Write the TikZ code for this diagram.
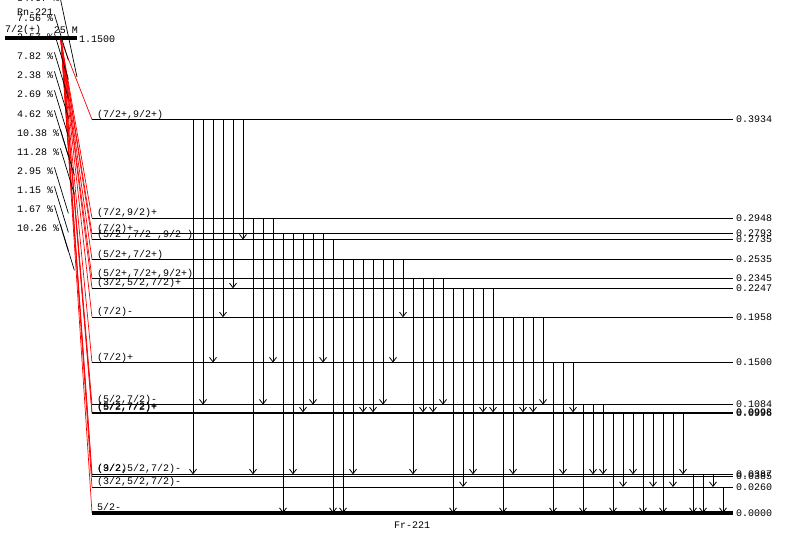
\documentclass[tikz,border=0pt]{standalone}
\usepackage{fontspec}
\newfontfamily\lmono{Liberation Mono}
\usetikzlibrary{arrows.meta}
\begin{document}
\begin{tikzpicture}[x=1pt,y=-1pt,
  lvl/.style={line width=0.9pt},
  gsl/.style={line width=3.4pt},
  gam/.style={line width=0.9pt,-{Straight Barb[length=4.5pt,width=7pt,line width=0.8pt]}},
  beta/.style={red,line width=0.7pt},
  ptr/.style={line width=0.7pt},
  txt/.style={font=\lmono\fontsize{10}{10}\selectfont,inner sep=0pt},
  ]
\useasboundingbox[fill=white] (0,0) rectangle (785,535);
% level anchors
\foreach \n/\y in {3934/119.6, 2948/218.2, 2793/233.7, 2735/239.5, 2535/259.5,
  2345/278.5, 2247/288.3, 1958/317.2, 1500/362.5, 1084/404.6, 0998/412.3,
  0996/413.3, 0387/474.3, 0385/476.3, 0260/487, 0000/513}{
  \coordinate (L\n) at (92,\y);
  \coordinate (R\n) at (733,\y);
}
% parent
\coordinate (P) at (61,40);
\coordinate (P0) at (5,38);
\coordinate (P1) at (77,38);
% beta feeding lines
\foreach \n in {3934,2948,2793,2735,2535,2345,2247,1958,1500,1084,0998,0996,0387,0385,0260,0000}
  \draw[beta] (P) -- (L\n);
% percentages and pointers
\node[txt,anchor=west] (p0) at (17,-2) {34.67~\%};
\draw[ptr] (60,-3) -- (77,77);
\node[txt,anchor=west] (rn) at (17,12) {Rn-221};
\foreach \pc/\y [count=\i] in {7.56/18, 2.57/37, 7.82/56, 2.38/75, 2.69/94, 4.62/114,
  10.38/133, 11.28/152, 2.95/171, 1.15/190, 1.67/209, 10.26/228}{
  \node[txt,anchor=west] (p\i) at (17,\y) {\pc~\%};
  \draw[ptr] ([xshift=1pt]p\i.north east) -- ++(14,46);
}
\draw[line width=4.2pt] (P0) -- (P1);
\node[txt,anchor=west] (spin) at (5,30) {7/2(+)};
\node[txt,anchor=east] (hl) at (78,30) {25 M};
\node[txt,anchor=west] (pe) at (79,39.5) {1.1500};
% levels
\foreach \n in {3934,2948,2793,2735,2535,2345,2247,1958,1500,1084,0998,0996,0387,0385,0260}{
  \draw[lvl] (L\n) -- (R\n);
  \node[txt,anchor=west,xshift=3pt] (e\n) at (R\n) {0.\n};
}
\draw[gsl] (L0000) -- (R0000);
\node[txt,anchor=west,xshift=3pt] (e0000) at (R0000) {0.0000};
% spin labels
\node[txt,anchor=base west] (s3934) at ([xshift=5pt,yshift=2.5pt]L3934) {(7/2+,9/2+)};
\node[txt,anchor=base west] (s2948) at ([xshift=5pt,yshift=2.5pt]L2948) {(7/2,9/2)+};
\node[txt,anchor=base west] (s2793) at ([xshift=5pt,yshift=2.5pt]L2793) {(7/2)+};
\node[txt,anchor=base west] (s2735) at ([xshift=5pt,yshift=2.5pt]L2735) {(5/2 ,7/2 ,9/2 )};
\node[txt,anchor=base west] (s2535) at ([xshift=5pt,yshift=2.5pt]L2535) {(5/2+,7/2+)};
\node[txt,anchor=base west] (s2345) at ([xshift=5pt,yshift=2.5pt]L2345) {(5/2+,7/2+,9/2+)};
\node[txt,anchor=base west] (s2247) at ([xshift=5pt,yshift=2.5pt]L2247) {(3/2,5/2,7/2)+};
\node[txt,anchor=base west] (s1958) at ([xshift=5pt,yshift=2.5pt]L1958) {(7/2)-};
\node[txt,anchor=base west] (s1500) at ([xshift=5pt,yshift=2.5pt]L1500) {(7/2)+};
\node[txt,anchor=base west] (s1084) at ([xshift=5pt,yshift=2.5pt]L1084) {(5/2,7/2)-};
\node[txt,anchor=base west] (s0998) at ([xshift=5pt,yshift=2.5pt]L0998) {(5/2,7/2)+};
\node[txt,anchor=base west] (s0996) at ([xshift=5pt,yshift=2.5pt]L0996) {(5/2,7/2)+};
\node[txt,anchor=base west] (s0387) at ([xshift=5pt,yshift=2.5pt]L0387) {(9/2)};
\node[txt,anchor=base west] (s0385) at ([xshift=5pt,yshift=4.5pt]L0385) {(3/2,5/2,7/2)-};
\node[txt,anchor=base west] (s0260) at ([xshift=5pt,yshift=2.5pt]L0260) {(3/2,5/2,7/2)-};
\node[txt,anchor=base west] (s0000) at ([xshift=5pt,yshift=3pt]L0000) {5/2-};
% gamma transitions
\foreach \x/\s/\e in {193/3934/0387, 203/3934/1084, 213/3934/1500, 223/3934/1958,
  233/3934/2247, 243/3934/2735, 253/2948/0387, 263/2948/1084, 273/2948/1500,
  283/2793/0000, 293/2793/0387, 303/2793/0998, 313/2793/1084, 323/2793/1500,
  333/2735/0000, 343/2535/0000, 353/2535/0387, 363/2535/0998, 373/2535/0998,
  383/2535/1084, 393/2535/1500, 403/2535/1958, 413/2345/0387, 423/2345/0998,
  433/2345/0998, 443/2345/1084, 453/2247/0000, 463/2247/0260, 473/2247/0387,
  483/2247/0998, 493/2247/0998, 503/1958/0000, 513/1958/0387, 523/1958/0998,
  533/1958/0998, 543/1958/1084, 553/1500/0000, 563/1500/0387, 573/1500/0998,
  583/1084/0000, 593/1084/0387, 603/1084/0387, 613/0998/0000, 623/0998/0260,
  633/0998/0387, 643/0998/0000, 653/0998/0260, 663/0998/0000, 673/0998/0260,
  683/0998/0387, 693/0387/0000, 703/0387/0000, 713/0387/0260, 723/0260/0000}
  \draw[gam] ([xshift=\x pt-92pt]L\s) -- ([xshift=\x pt-92pt]L\e);
\node[txt] (fr) at (412,525) {Fr-221};
\end{tikzpicture}
\end{document}
